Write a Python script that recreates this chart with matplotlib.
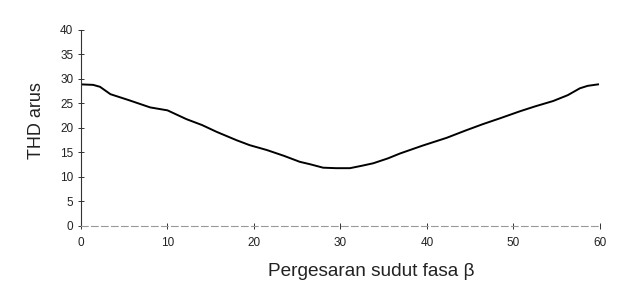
import matplotlib
matplotlib.use("Agg")
from matplotlib import pyplot as plt

# Data
beta = [0, 1.4, 2.2, 3.4, 5.5, 8.0, 10.0, 12.2, 14.0, 15.7, 18.0, 19.5, 21.5, 23.5,
        25.3, 26.5, 28.0, 29.5, 31.1, 32.5, 33.8, 35.5, 36.9, 39.5, 42.3, 44.5,
        46.5, 48.5, 50.75, 52.5, 54.6, 56.3, 57.2, 57.7, 58.6, 59.8]
thd = [28.9, 28.8, 28.4, 26.9, 25.7, 24.2, 23.6, 21.8, 20.6, 19.2, 17.5, 16.5, 15.5, 14.3,
       13.1, 12.6, 11.9, 11.8, 11.8, 12.3, 12.8, 13.8, 14.8, 16.4, 18.0, 19.5,
       20.8, 22.0, 23.4, 24.4, 25.5, 26.7, 27.6, 28.1, 28.6, 28.9]

plt.rcParams['font.family'] = ['Liberation Sans', 'DejaVu Sans']

fig = plt.figure(figsize=(6.3, 2.94), dpi=100)
ax = fig.add_axes([0.1286, 0.2313, 0.8234, 0.6667])

ax.plot(beta, thd, color='black', lw=1.4)

ax.set_xlim(0, 60)
ax.set_ylim(0, 40)
ax.set_xticks(range(0, 61, 10))
ax.set_yticks(range(0, 41, 5))

ax.spines['top'].set_visible(False)
ax.spines['right'].set_visible(False)
ax.spines['left'].set_color('#333333')
ax.spines['left'].set_linewidth(0.8)
ax.spines['bottom'].set_color('#999999')
ax.spines['bottom'].set_linewidth(0.8)
ax.spines['bottom'].set_linestyle((0, (6, 3)))
ax.tick_params(axis='both', direction='inout', length=4, width=0.7, colors='#333333',
               labelsize=8.5, labelcolor='#222222')
ax.tick_params(axis='x', pad=6)

ax.set_xlabel("Pergesaran sudut fasa β", fontsize=13.7, color='#222222', labelpad=10, x=0.56)
ax.set_ylabel("THD arus", fontsize=13, color='#222222', labelpad=11, y=0.536)

fig.savefig("out.png", dpi=100)
